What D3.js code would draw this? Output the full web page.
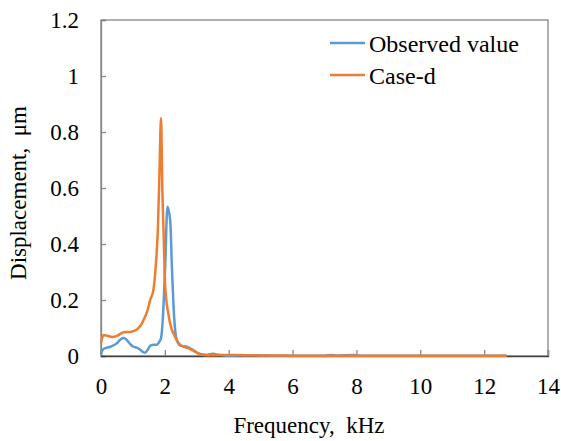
<!DOCTYPE html>
<html>
<head>
<meta charset="utf-8">
<script src="https://cdn.jsdelivr.net/npm/d3@7"></script>
<style>
  body { margin: 0; background: #fff; }
</style>
</head>
<body>
<div id="graf"></div>
<script>
// datos
const obsFreq = [0, 0.08, 0.29, 0.5, 0.62, 0.71, 0.81, 0.92, 1.02, 1.12, 1.23, 1.3, 1.38, 1.46, 1.54, 1.65, 1.75, 1.82, 1.88, 1.94, 2.01, 2.08, 2.17, 2.22, 2.29, 2.37, 2.45, 2.53, 2.69, 2.89, 3.1, 3.3, 3.5, 3.7, 4.0, 4.5, 5.0, 5.5, 6.0, 7.0, 7.2, 7.4, 7.9, 8.1, 9.0, 10.0, 11.0, 12.7]
const obsVal  = [0.01, 0.025, 0.033, 0.046, 0.06, 0.064, 0.057, 0.042, 0.033, 0.03, 0.022, 0.015, 0.012, 0.022, 0.036, 0.04, 0.04, 0.05, 0.064, 0.14, 0.32, 0.533, 0.48, 0.32, 0.14, 0.057, 0.04, 0.036, 0.033, 0.021, 0.007, 0.004, 0.008, 0.004, 0.001, 0.003, 0.002, 0.001, 0.001, 0.001, 0.004, 0.001, 0.004, 0.001, 0.001, 0.001, 0.001, 0.001]

const caseFreq = [0, 0.08, 0.2, 0.35, 0.5, 0.71, 0.95, 1.12, 1.25, 1.33, 1.45, 1.54, 1.64, 1.72, 1.78, 1.83, 1.88, 1.92, 1.96, 2.01, 2.11, 2.2, 2.27, 2.38, 2.48, 2.6, 2.79, 3.0, 3.21, 3.5, 4.0, 4.5, 5.0, 5.5, 6.0, 7.0, 8.0, 10.0, 12.7]
const caseVal  = [0.047, 0.075, 0.072, 0.068, 0.072, 0.085, 0.087, 0.095, 0.11, 0.128, 0.16, 0.2, 0.235, 0.33, 0.45, 0.65, 0.85, 0.6, 0.44, 0.25, 0.15, 0.1, 0.08, 0.055, 0.04, 0.033, 0.025, 0.012, 0.004, 0.003, 0.004, 0.003, 0.002, 0.002, 0.001, 0.001, 0.001, 0.001, 0.001]

const xTicks = [0, 2, 4, 6, 8, 10, 12, 14]
const yTicks = [0, 0.2, 0.4, 0.6, 0.8, 1, 1.2]

const series = [
  { name: "Observed value", freq: obsFreq, val: obsVal, color: "#5B9BD5" },
  { name: "Case-d", freq: caseFreq, val: caseVal, color: "#ED7D31" }
]

// dimensiones
const anchoTotal = 561
const altoTotal = 441
const margins = { top: 20, right: 13, bottom: 85, left: 101 }
const ancho = anchoTotal - margins.left - margins.right
const alto = altoTotal - margins.top - margins.bottom

const svg = d3.select("#graf")
  .append("svg")
  .attr("width", anchoTotal)
  .attr("height", altoTotal)
  .attr("font-family", "Liberation Serif")

const g = svg.append("g")
  .attr("transform", `translate(${margins.left}, ${margins.top})`)

// escaladores
const x = d3.scaleLinear().domain([0, 14]).range([0, ancho])
const y = d3.scaleLinear().domain([0, 1.2]).range([alto, 0])

// marco
g.append("rect")
  .attr("x", 0).attr("y", 0)
  .attr("width", ancho).attr("height", alto)
  .attr("fill", "none")
  .attr("stroke", "#868686")
  .attr("stroke-width", 1.3)

// eje Y
const yAxis = d3.axisLeft(y).tickValues(yTicks).tickSize(-5).tickPadding(22)
  .tickFormat(d => d3.format("~g")(d))
const yAxisGroup = g.append("g").call(yAxis)
  .attr("font-family", null)
  .attr("font-size", 23)
yAxisGroup.select(".domain").attr("stroke", "#868686").attr("stroke-width", 1.3)
yAxisGroup.selectAll(".tick line").attr("stroke", "#868686").attr("stroke-width", 1.3)
yAxisGroup.selectAll("text").attr("fill", "#000")

// eje X
const xAxis = d3.axisBottom(x).tickValues(xTicks).tickSize(-6).tickPadding(22)
const xAxisGroup = g.append("g")
  .attr("transform", `translate(0, ${alto})`)
  .call(xAxis)
  .attr("font-family", null)
  .attr("font-size", 23)
xAxisGroup.select(".domain").attr("stroke", "#404040").attr("stroke-width", 1.3)
xAxisGroup.selectAll(".tick line").attr("stroke", "#868686").attr("stroke-width", 1.3)
xAxisGroup.selectAll("text").attr("fill", "#000")

// lineas
const line = d3.line()
  .x(d => x(d[0]))
  .y(d => y(d[1]))
  .curve(d3.curveMonotoneX)

series.forEach(s => {
  g.append("path")
    .datum(d3.zip(s.freq, s.val))
    .attr("fill", "none")
    .attr("stroke", s.color)
    .attr("stroke-width", 2.5)
    .attr("stroke-linejoin", "round")
    .attr("d", line)
})

// titulos
svg.append("text")
  .attr("x", 309)
  .attr("y", 433)
  .attr("text-anchor", "middle")
  .attr("font-size", 23)
  .attr("xml:space", "preserve")
  .text("Frequency,  kHz")

svg.append("text")
  .attr("transform", `translate(26, 193) rotate(-90)`)
  .attr("text-anchor", "middle")
  .attr("font-size", 23)
  .attr("xml:space", "preserve")
  .text("Displacement,  \u03bcm")

// leyenda
const leg = svg.append("g").attr("transform", "translate(330, 43)")
series.forEach((s, i) => {
  leg.append("line")
    .attr("x1", 0).attr("x2", 35)
    .attr("y1", i * 32).attr("y2", i * 32)
    .attr("stroke", s.color)
    .attr("stroke-width", 2.5)
  leg.append("text")
    .attr("x", 39)
    .attr("y", i * 32 + 9)
    .attr("font-size", 24)
    .text(s.name)
})
</script>
</body>
</html>
